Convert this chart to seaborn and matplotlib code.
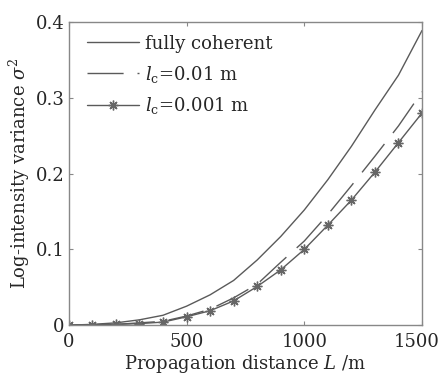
import pandas as pd
import matplotlib.pyplot as plt
import matplotlib.transforms as mtransforms
import seaborn as sns
from matplotlib.ticker import FuncFormatter

# --- data ---
L = [0, 100, 200, 300, 400, 500, 600, 700, 800, 900, 1000, 1100, 1200, 1300, 1400, 1500]
coherent = [0, 0.001, 0.003, 0.007, 0.013, 0.025, 0.040, 0.059, 0.086, 0.117,
            0.152, 0.192, 0.236, 0.284, 0.330, 0.389]
lc_001 = [0, 0.0005, 0.001, 0.003, 0.005, 0.012, 0.021, 0.036, 0.054, 0.083,
          0.111, 0.146, 0.184, 0.223, 0.263, 0.308]
lc_0001 = [0, 0.0005, 0.001, 0.002, 0.004, 0.011, 0.019, 0.032, 0.051, 0.073,
           0.100, 0.132, 0.165, 0.202, 0.241, 0.280]
labels = ["fully coherent", r"$l_{\rm c}$=0.01 m", r"$l_{\rm c}$=0.001 m"]

LINE = "#5a5a5a"

sns.set_style("ticks")
plt.rcParams["font.family"] = ["DejaVu Serif"]
plt.rcParams["mathtext.fontset"] = "dejavuserif"

fig = plt.figure(figsize=(4.41, 3.75), dpi=100)
ax = fig.add_axes([0.156, 0.133, 0.801, 0.808])

df = pd.DataFrame({"L": L, "coh": coherent, "a": lc_001, "b": lc_0001})

sns.lineplot(data=df, x="L", y="coh", ax=ax, color=LINE, lw=1.0, label=labels[0])
sns.lineplot(data=df, x="L", y="a", ax=ax, color=LINE, lw=1.0, label=labels[1],
             dashes=False, linestyle=(0, (26, 10)))
sns.lineplot(data=df, x="L", y="b", ax=ax, color=LINE, lw=1.0, label=labels[2],
             marker=(8, 2, 0), markersize=7, markeredgewidth=1.0,
             markeredgecolor="#666666")

ax.set_xlim(0, 1500)
ax.set_ylim(0, 0.4)
ax.set_xticks([0, 500, 1000, 1500])
ax.set_yticks([0, 0.1, 0.2, 0.3, 0.4])
ax.yaxis.set_major_formatter(FuncFormatter(lambda v, p: "0" if v == 0 else f"{v:.1f}"))
ax.tick_params(direction="in", length=3, labelsize=13, top=True, right=True,
               color="#888888")
ax.tick_params(axis="x", pad=6)
ax.tick_params(axis="y", pad=3)

# 右端の "1500" が切れないよう少し左へ
last = ax.get_xticklabels()[-1]
last.set_transform(last.get_transform() +
                   mtransforms.ScaledTranslation(-4 / 72, 0, fig.dpi_scale_trans))

for s in ax.spines.values():
    s.set_color("#888888")
    s.set_linewidth(1.0)

ax.set_xlabel(r"Propagation distance $L$ /m", fontsize=13, labelpad=1)
ax.set_ylabel(r"Log-intensity variance $\sigma^2$", fontsize=13, labelpad=3)

ax.legend(loc="upper left", frameon=False, fontsize=13, handlelength=2.9,
          handletextpad=0.3, labelspacing=0.6, borderaxespad=0.3,
          bbox_to_anchor=(0.015, 1.0))

fig.savefig("out.png", dpi=100)
